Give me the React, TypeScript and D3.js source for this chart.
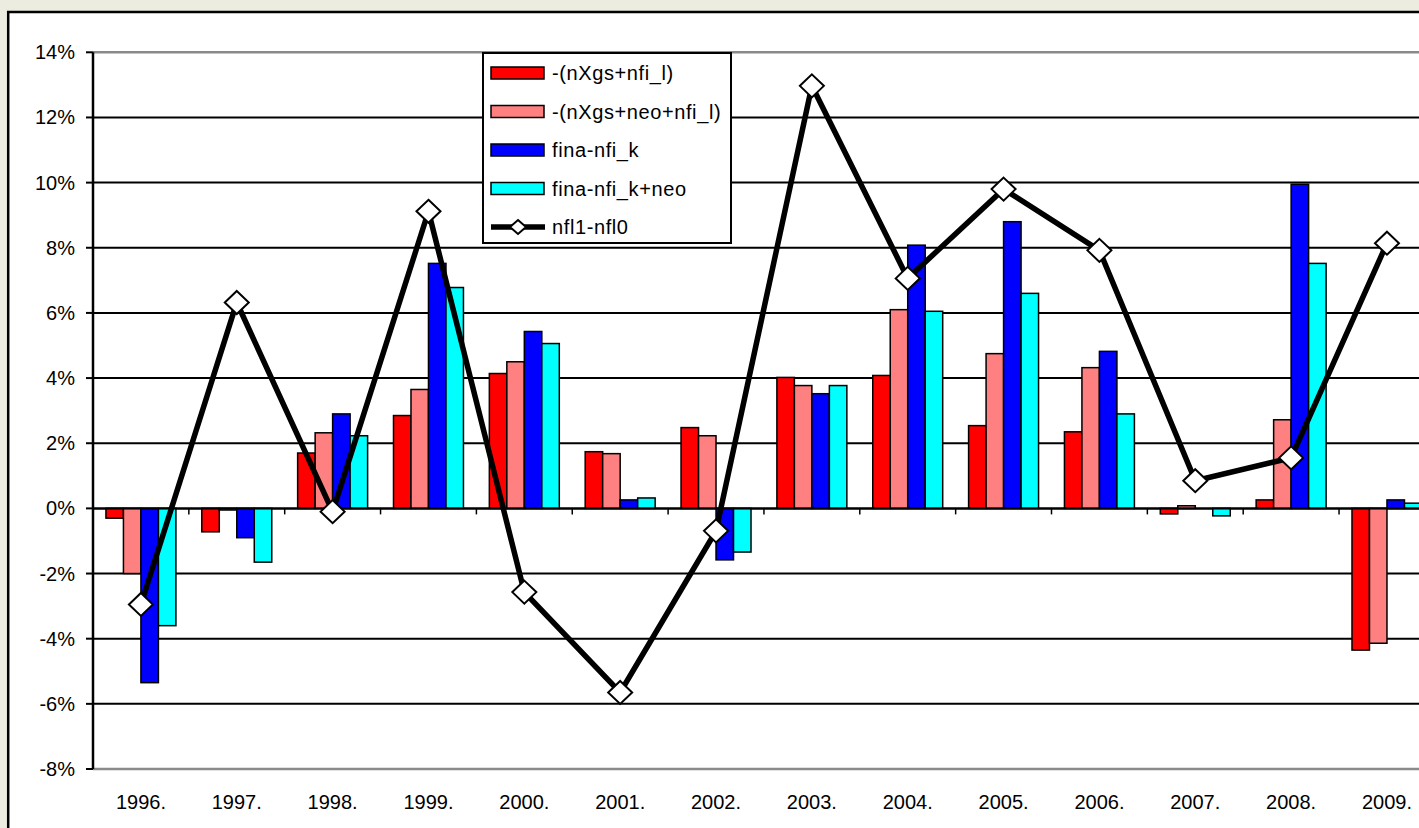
import React, { useEffect, useRef } from 'react';
import * as d3 from 'd3';

const years = ["1996.", "1997.", "1998.", "1999.", "2000.", "2001.", "2002.", "2003.", "2004.", "2005.", "2006.", "2007.", "2008.", "2009."];

const seriesNames = ["-(nXgs+nfi_l)", "-(nXgs+neo+nfi_l)", "fina-nfi_k", "fina-nfi_k+neo"];
const seriesColors = ["#FF0000", "#FF8080", "#0000FF", "#00FFFF"];

const nXgsNfiL = [-0.3, -0.72, 1.7, 2.85, 4.14, 1.74, 2.48, 4.02, 4.08, 2.54, 2.35, -0.17, 0.26, -4.35];
const nXgsNeoNfiL = [-2.0, -0.05, 2.32, 3.65, 4.5, 1.68, 2.23, 3.77, 6.1, 4.75, 4.32, 0.08, 2.72, -4.14];
const finaNfiK = [-5.35, -0.9, 2.9, 7.52, 5.43, 0.26, -1.58, 3.52, 8.08, 8.8, 4.82, 0.0, 9.95, 0.26];
const finaNfiKNeo = [-3.6, -1.65, 2.23, 6.78, 5.06, 0.32, -1.34, 3.77, 6.05, 6.6, 2.9, -0.23, 7.52, 0.16];

const nfl1Nfl0 = [-2.95, 6.32, -0.1, 9.12, -2.57, -5.65, -0.69, 12.97, 7.06, 9.8, 7.92, 0.85, 1.55, 8.14];

const yTicks = [-8, -6, -4, -2, 0, 2, 4, 6, 8, 10, 12, 14];

const FONT = "Arial, 'Liberation Sans', sans-serif";

const App = () => {
    const chartRef = useRef<SVGSVGElement>(null);

    useEffect(() => {
        const width = 1419;
        const height = 828;
        const left = 93;
        const stepW = 95.85;
        const right = left + years.length * stepW;
        const top = 52.3;
        const bottom = 769;

        const svg = d3.select(chartRef.current);
        svg.selectAll("*").remove();

        svg.append("rect").attr("width", width).attr("height", height).attr("fill", "#ECECE0");
        svg.append("rect")
            .attr("x", 8.2).attr("y", 12)
            .attr("width", width + 20).attr("height", height + 20)
            .attr("fill", "white").attr("stroke", "black").attr("stroke-width", 2.5);

        const x = d3.scaleBand<string>().domain(years).range([left, right]).padding(0);
        const x1 = d3.scaleBand<string>().domain(seriesNames).range([0, x.bandwidth()])
            .paddingInner(0).paddingOuter(0.74);
        const y = d3.scaleLinear().domain([-8, 14]).range([bottom, top]);

        // gridlines
        svg.append("g").selectAll("line")
            .data(yTicks.filter(t => t !== -8 && t !== 14))
            .enter().append("line")
            .attr("x1", left).attr("x2", right)
            .attr("y1", d => y(d)).attr("y2", d => y(d))
            .attr("stroke", "black").attr("stroke-width", 2);

        [14, -8].forEach(t => {
            svg.append("line")
                .attr("x1", left).attr("x2", right)
                .attr("y1", y(t)).attr("y2", y(t))
                .attr("stroke", "#8a8a8a").attr("stroke-width", 2.5);
        });

        // bars
        const seriesData = [nXgsNfiL, nXgsNeoNfiL, finaNfiK, finaNfiKNeo];
        seriesData.forEach((vals, si) => {
            svg.append("g").selectAll("rect")
                .data(vals)
                .enter().append("rect")
                .attr("x", (d, i) => (x(years[i]) as number) + (x1(seriesNames[si]) as number))
                .attr("y", d => y(Math.max(0, d)))
                .attr("width", x1.bandwidth())
                .attr("height", d => Math.abs(y(d) - y(0)))
                .attr("fill", seriesColors[si])
                .attr("stroke", "black")
                .attr("stroke-width", d => (d === 0 ? 0 : 1.5));
        });

        // zero axis + category ticks
        svg.append("line")
            .attr("x1", left).attr("x2", right)
            .attr("y1", y(0)).attr("y2", y(0))
            .attr("stroke", "black").attr("stroke-width", 2);
        svg.append("g").selectAll("line")
            .data(d3.range(years.length + 1))
            .enter().append("line")
            .attr("x1", i => left + i * stepW).attr("x2", i => left + i * stepW)
            .attr("y1", y(0)).attr("y2", y(0) + 6)
            .attr("stroke", "black").attr("stroke-width", 1.5);

        // y axis
        svg.append("line")
            .attr("x1", left).attr("x2", left)
            .attr("y1", top).attr("y2", bottom)
            .attr("stroke", "black").attr("stroke-width", 2.5);
        const yAxisG = svg.append("g");
        yAxisG.selectAll("line")
            .data(yTicks).enter().append("line")
            .attr("x1", left - 7).attr("x2", left)
            .attr("y1", d => y(d)).attr("y2", d => y(d))
            .attr("stroke", "black").attr("stroke-width", 2);
        yAxisG.selectAll("text")
            .data(yTicks).enter().append("text")
            .attr("x", 75).attr("y", d => y(d))
            .attr("dy", "0.35em")
            .attr("text-anchor", "end")
            .style("font-family", FONT).style("font-size", "20px")
            .text(d => d + "%");

        // x labels
        svg.append("g").selectAll("text")
            .data(years).enter().append("text")
            .attr("x", d => (x(d) as number) + x.bandwidth() / 2)
            .attr("y", 802)
            .attr("dy", "0.35em")
            .attr("text-anchor", "middle")
            .style("font-family", FONT).style("font-size", "20px")
            .text(d => d);

        // line series
        const line = d3.line<number>()
            .x((d, i) => (x(years[i]) as number) + x.bandwidth() / 2)
            .y(d => y(d));
        svg.append("path")
            .datum(nfl1Nfl0)
            .attr("d", line)
            .attr("fill", "none")
            .attr("stroke", "black")
            .attr("stroke-width", 5.5)
            .attr("stroke-linejoin", "miter");

        const diamond = "M0,-11.5L12,0L0,11.5L-12,0Z";
        svg.append("g").selectAll("path")
            .data(nfl1Nfl0).enter().append("path")
            .attr("d", diamond)
            .attr("transform", (d, i) => `translate(${(x(years[i]) as number) + x.bandwidth() / 2},${y(d)})`)
            .attr("fill", "white")
            .attr("stroke", "black")
            .attr("stroke-width", 2);

        // legend
        const lg = svg.append("g");
        lg.append("rect")
            .attr("x", 483).attr("y", 53).attr("width", 248).attr("height", 190)
            .attr("fill", "white").attr("stroke", "black").attr("stroke-width", 2);
        const rowY = (i: number) => 73 + i * 38.5;
        seriesNames.forEach((name, i) => {
            lg.append("rect")
                .attr("x", 491).attr("y", rowY(i) - 6)
                .attr("width", 53).attr("height", 12)
                .attr("fill", seriesColors[i]).attr("stroke", "black").attr("stroke-width", 1.5);
            lg.append("text")
                .attr("x", 552).attr("y", rowY(i)).attr("dy", "0.35em")
                .style("font-family", FONT).style("font-size", "20px")
                .style("letter-spacing", "0.6px")
                .text(name);
        });
        const ly = rowY(4);
        lg.append("line")
            .attr("x1", 491).attr("x2", 545).attr("y1", ly).attr("y2", ly)
            .attr("stroke", "black").attr("stroke-width", 5.5);
        lg.append("path")
            .attr("d", "M0,-7L8,0L0,7L-8,0Z")
            .attr("transform", `translate(518,${ly})`)
            .attr("fill", "white").attr("stroke", "black").attr("stroke-width", 2);
        lg.append("text")
            .attr("x", 552).attr("y", ly).attr("dy", "0.35em")
            .style("font-family", FONT).style("font-size", "20px")
            .style("letter-spacing", "0.6px")
            .text("nfl1-nfl0");
    }, []);

    return (
        <div style={{ position: "absolute", left: 0, top: 0 }}>
            <svg ref={chartRef} width={1419} height={828} style={{ display: "block" }}></svg>
        </div>
    );
};

export default App;
